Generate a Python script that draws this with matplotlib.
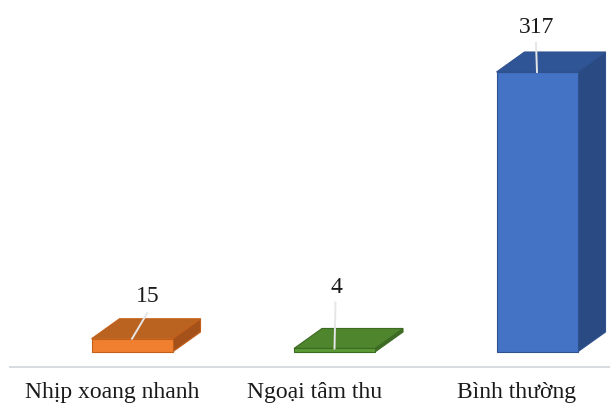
import matplotlib
matplotlib.use("Agg")
import matplotlib.pyplot as plt
from matplotlib.patches import Polygon

categories = ["Nhịp xoang nhanh", "Ngoại tâm thu", "Bình thường"]
counts = [15, 4, 317]

# face colours per bar: front, top, side
front_colors = ["#F07F30", "#5B9A36", "#4472C4"]
top_colors = ["#BA6220", "#4F862D", "#2F5597"]
side_colors = ["#A4521A", "#3D6A22", "#2A4A84"]
edge_colors = ["#C45F1A", "#3E6B24", "#2F528F"]

# value label placement relative to the bar's front top edge
label_dx = [0.08, 0.01, 0.0]      # category units
label_dy = [48, 69, 50]           # value units
leader_gap = [19, 17, 17]         # value units below label centre

PX_X = 202.5        # pixels per category
PX_Y = 280 / 317    # pixels per count
BAR_W = 0.4
DEPTH_X = 28 / PX_X
DEPTH_Y = 20 / PX_Y

fig = plt.figure(figsize=(6.10, 4.05), dpi=100)
ax = fig.add_axes([0, 0, 1, 1])
ax.set_xlim(-132 / PX_X, (610 - 132) / PX_X)
ax.set_ylim(-53 / PX_Y, 352 / PX_Y)
ax.axis("off")

serif = ["Liberation Serif", "DejaVu Serif"]

# floor line
ax.plot([-122 / PX_X, 478 / PX_X], [-15 / PX_Y] * 2, color="#D4D8DC", lw=1.3)

for i, (name, val) in enumerate(zip(categories, counts)):
    x0, x1 = i - BAR_W / 2, i + BAR_W / 2
    front = [(x0, 0), (x1, 0), (x1, val), (x0, val)]
    top = [(x0, val), (x1, val), (x1 + DEPTH_X, val + DEPTH_Y), (x0 + DEPTH_X, val + DEPTH_Y)]
    side = [(x1, 0), (x1 + DEPTH_X, DEPTH_Y), (x1 + DEPTH_X, val + DEPTH_Y), (x1, val)]
    ax.add_patch(Polygon(side, closed=True, fc=side_colors[i], ec=edge_colors[i], lw=0.8))
    ax.add_patch(Polygon(top, closed=True, fc=top_colors[i], ec=edge_colors[i], lw=0.8))
    ax.add_patch(Polygon(front, closed=True, fc=front_colors[i], ec=edge_colors[i], lw=0.8))

    lx, ly = i + label_dx[i], val + label_dy[i]
    ax.plot([lx - 0.005, i], [ly - leader_gap[i], val], color="#E6E6E6", lw=1.4, zorder=5)
    ax.text(lx, ly, str(val), ha="center", va="center", fontsize=17,
            family=serif, color="#1a1a1a")

    ax.text(i - 0.1, -52.6, name, ha="center", va="baseline", fontsize=17,
            family=serif, color="#1a1a1a")

fig.savefig("out.png", dpi=100)
